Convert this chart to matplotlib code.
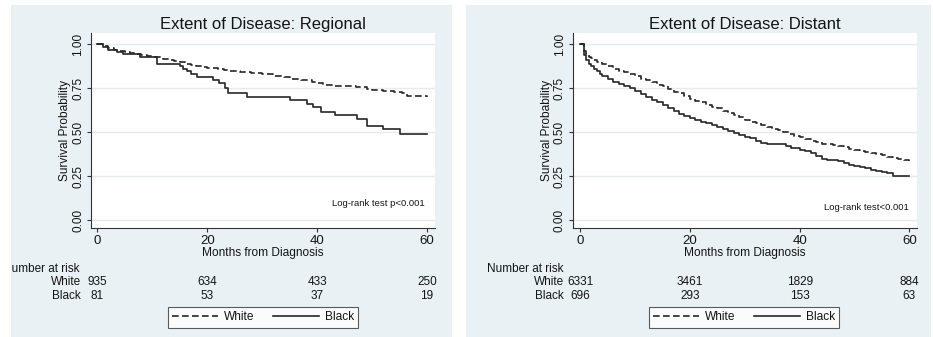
import matplotlib
matplotlib.use('Agg')
import matplotlib.pyplot as plt
from matplotlib.patches import Rectangle
import matplotlib.transforms as mtransforms

plt.rcParams['font.family'] = ['Liberation Sans', 'DejaVu Sans']

# ---------------- data ----------------
titles = ["Extent of Disease: Regional", "Extent of Disease: Distant"]
logrank_texts = ["Log-rank test p<0.001", "Log-rank test<0.001"]
group_labels = ["White", "Black"]
risk_times = [0, 20, 40, 60]
risk_regional_white = ["935", "634", "433", "250"]
risk_regional_black = ["81", "53", "37", "19"]
risk_distant_white = ["6331", "3461", "1829", "884"]
risk_distant_black = ["696", "293", "153", "63"]
xticks = [0, 20, 40, 60]
yticks = [0.00, 0.25, 0.50, 0.75, 1.00]
ytick_labels = ["0.00", "0.25", "0.50", "0.75", "1.00"]

# Regional, White (step times / survival)
reg_white_t = [0, 1, 2, 3, 4, 5, 6, 7, 8, 9, 10, 11, 12, 13, 14, 15, 16, 17, 18, 19,
               20, 22, 23, 24, 25, 26, 28, 30, 32, 34, 35, 37, 39, 40, 41, 43, 45,
               47, 49, 50, 52, 54, 55.5, 56.3, 58, 60]
reg_white_s = [1.0, 0.99, 0.98, 0.97, 0.96, 0.955, 0.95, 0.945, 0.94, 0.935, 0.93,
               0.925, 0.918, 0.91, 0.905, 0.898, 0.89, 0.882, 0.876, 0.87, 0.866,
               0.86, 0.855, 0.85, 0.845, 0.84, 0.835, 0.83, 0.82, 0.812, 0.80,
               0.795, 0.788, 0.782, 0.77, 0.765, 0.76, 0.755, 0.748, 0.738, 0.735,
               0.73, 0.72, 0.708, 0.704, 0.702]
# Regional, Black
reg_black_t = [0, 1.1, 2.0, 3.5, 4.7, 7.8, 10.8, 15.0, 15.6, 16.3, 17.0, 18.1, 21.1,
               22.2, 23.2, 23.8, 27.2, 35.1, 38.1, 39.3, 40.8, 43.3, 47.2, 49.0,
               52.0, 55.1, 60]
reg_black_s = [1.0, 0.985, 0.968, 0.954, 0.943, 0.928, 0.89, 0.875, 0.86, 0.845,
               0.83, 0.812, 0.797, 0.778, 0.75, 0.72, 0.70, 0.683, 0.66, 0.641,
               0.616, 0.598, 0.573, 0.535, 0.516, 0.488, 0.488]
# Distant, White
dis_white_t = [0, 0.7, 1.0, 1.5, 2.0, 2.5, 3.0, 4.0, 5.0, 6.0, 7.0, 8.0, 9.0, 10.0,
               11.0, 12.0, 13.0, 14.0, 15.0, 16.0, 17.0, 18.0, 19.0, 20.0, 21.0,
               22.0, 23.0, 24.0, 25.0, 26.0, 27.0, 28.0, 29.0, 30.0, 31.0, 32.0,
               33.0, 34.0, 35.0, 36.0, 37.0, 38.0, 39.0, 40.0, 41.0, 42.0, 43.0,
               44.0, 45.0, 46.0, 47.0, 48.0, 49.0, 50.0, 51.0, 52.0, 53.0, 54.0,
               55.0, 56.0, 57.0, 58.0, 59.0, 60.0]
dis_white_s = [1.0, 0.96, 0.945, 0.93, 0.92, 0.91, 0.90, 0.885, 0.875, 0.86, 0.85,
               0.84, 0.83, 0.82, 0.805, 0.795, 0.785, 0.77, 0.76, 0.745, 0.73, 0.72,
               0.705, 0.69, 0.68, 0.67, 0.655, 0.645, 0.635, 0.62, 0.61, 0.60,
               0.585, 0.57, 0.56, 0.55, 0.54, 0.53, 0.52, 0.51, 0.50, 0.49, 0.48,
               0.47, 0.46, 0.45, 0.445, 0.435, 0.43, 0.425, 0.42, 0.415, 0.405,
               0.40, 0.395, 0.385, 0.38, 0.375, 0.37, 0.36, 0.355, 0.35, 0.34, 0.338]
# Distant, Black
dis_black_t = [0, 0.7, 1.0, 1.5, 2.0, 2.5, 3.0, 3.5, 4.0, 5.0, 6.0, 7.0, 8.0, 9.0,
               10.0, 11.0, 12.0, 13.0, 14.0, 15.0, 16.0, 17.0, 18.0, 19.0, 20.0,
               21.0, 22.0, 23.0, 24.0, 25.0, 26.0, 27.0, 28.0, 29.0, 30.0, 31.0,
               32.0, 33.0, 34.0, 37.5, 38.5, 40.0, 41.0, 42.0, 43.0, 44.0, 45.0,
               47.0, 48.0, 49.0, 50.0, 51.0, 52.0, 53.0, 54.0, 55.0, 56.0, 57.1, 60.0]
dis_black_s = [1.0, 0.94, 0.91, 0.89, 0.875, 0.86, 0.845, 0.83, 0.82, 0.80, 0.785,
               0.775, 0.765, 0.75, 0.735, 0.715, 0.70, 0.685, 0.67, 0.655, 0.635,
               0.62, 0.605, 0.59, 0.58, 0.57, 0.56, 0.55, 0.54, 0.53, 0.52, 0.505,
               0.495, 0.485, 0.475, 0.465, 0.45, 0.44, 0.43, 0.423, 0.41, 0.40,
               0.39, 0.38, 0.365, 0.35, 0.34, 0.335, 0.325, 0.315, 0.305, 0.30,
               0.295, 0.285, 0.28, 0.275, 0.27, 0.248, 0.248]

# ---------------- layout ----------------
W, H = 933, 337
fig = plt.figure(figsize=(W / 100, H / 100), dpi=100)
fig.patch.set_facecolor('white')

def fx(px):
    return px / W

def fy(py):
    return 1 - py / H

BG = '#EAF1F4'
TXT = '#141414'
LINEC = '#262626'
GRIDC = '#E4ECEF'

panels = [
    dict(bg=(11, 5, 452, 337), ax=(91, 33, 435, 228.3), xlim=(-1.15, 61.46),
         curves=[(reg_white_t, reg_white_s), (reg_black_t, reg_black_s)],
         risk=[risk_regional_white, risk_regional_black], logrank_xy=(425, 203),
         legend_c=(263, 317.5)),
    dict(bg=(466, 5, 931, 337), ax=(572.7, 33, 916.7, 228.3), xlim=(-1.39, 61.35),
         curves=[(dis_white_t, dis_white_s), (dis_black_t, dis_black_s)],
         risk=[risk_distant_white, risk_distant_black], logrank_xy=(909, 207),
         legend_c=(744, 317.5)),
]

for i, p in enumerate(panels):
    x0, y0, x1, y1 = p['bg']
    bg = Rectangle((fx(x0), fy(y1)), fx(x1) - fx(x0), fy(y0) - fy(y1),
                   transform=fig.transFigure, facecolor=BG, edgecolor='none',
                   zorder=-10)
    fig.patches.append(bg)
    clipbox = mtransforms.TransformedBbox(
        mtransforms.Bbox.from_extents(fx(x0), fy(y1), fx(x1), fy(y0)), fig.transFigure)

    a0, b0, a1, b1 = p['ax']
    ax = fig.add_axes([fx(a0), fy(b1), fx(a1) - fx(a0), fy(b0) - fy(b1)])
    ax.set_zorder(1)
    ax.set_facecolor('white')
    ax.set_xlim(*p['xlim'])
    ax.set_ylim(-0.047, 1.064)
    for s in ['top', 'right']:
        ax.spines[s].set_visible(False)
    for s in ['left', 'bottom']:
        ax.spines[s].set_color('#333333')
        ax.spines[s].set_linewidth(0.8)
    ax.set_xticks(xticks)
    ax.set_xticklabels([str(v) for v in xticks], fontsize=9.5, color=TXT)
    ax.set_yticks(yticks)
    ax.set_yticklabels(ytick_labels, fontsize=8.5, color=TXT, rotation=90, va='center')
    ax.tick_params(axis='both', direction='out', length=3, width=0.8, color='#333333')
    ax.tick_params(axis='x', pad=2)
    ax.tick_params(axis='y', pad=2)
    ax.grid(axis='y', color=GRIDC, linewidth=1.0)
    ax.set_axisbelow(True)

    (wt, ws), (bt, bs) = p['curves']
    lw_, = ax.step(wt, ws, where='post', color=LINEC, linewidth=1.2,
                   linestyle=(0, (4, 2)), label=group_labels[0])
    lb_, = ax.step(bt, bs, where='post', color=LINEC, linewidth=1.2,
                   linestyle='-', label=group_labels[1])

    ax.set_title(titles[i], fontsize=12, color=TXT, pad=3)
    ax.set_xlabel('Months from Diagnosis', fontsize=8.6, color=TXT, labelpad=0)
    ax.set_ylabel('Survival Probability', fontsize=8.6, color=TXT, labelpad=1)
    ax.xaxis.set_label_coords(0.5, -(253 - b1) / (b1 - b0))
    ax.yaxis.set_label_coords(-26 / (a1 - a0), 0.5)
    ax.yaxis.label.set_va('center')
    ax.xaxis.label.set_va('center')

    lx, ly = p['logrank_xy']
    ax.text(fx(lx), fy(ly), logrank_texts[i], fontsize=6.8, color=TXT,
            ha='right', va='center', transform=fig.transFigure)

    # number at risk table
    tr = mtransforms.blended_transform_factory(ax.transData, fig.transFigure)
    t_head = ax.text(-17.1, fy(269), 'Number at risk', transform=tr, fontsize=8.5,
                     color=TXT, ha='left', va='center', clip_on=True)
    t_head.set_clip_box(clipbox)
    for row, (lab, yy) in enumerate(zip(group_labels, [282, 296])):
        ax.text(-3.0, fy(yy), lab, transform=tr, fontsize=8.5, color=TXT,
                ha='right', va='center', clip_on=False)
        for t, v in zip(risk_times, p['risk'][row]):
            ax.text(t, fy(yy), v, transform=tr, fontsize=8.5, color=TXT,
                    ha='center', va='center', clip_on=False)

    cx, cy = p['legend_c']
    leg = ax.legend(handles=[lw_, lb_], labels=group_labels, ncol=2, loc='center',
                    bbox_to_anchor=(fx(cx), fy(cy)), bbox_transform=fig.transFigure,
                    frameon=True, fancybox=False, edgecolor='#333333',
                    handlelength=3.8, handletextpad=0.5, columnspacing=1.6,
                    borderpad=0.35, fontsize=8.6, borderaxespad=0)
    leg.get_frame().set_linewidth(0.8)
    leg.get_frame().set_facecolor('white')
    for t in leg.get_texts():
        t.set_color(TXT)

fig.savefig('out.png', dpi=100)
